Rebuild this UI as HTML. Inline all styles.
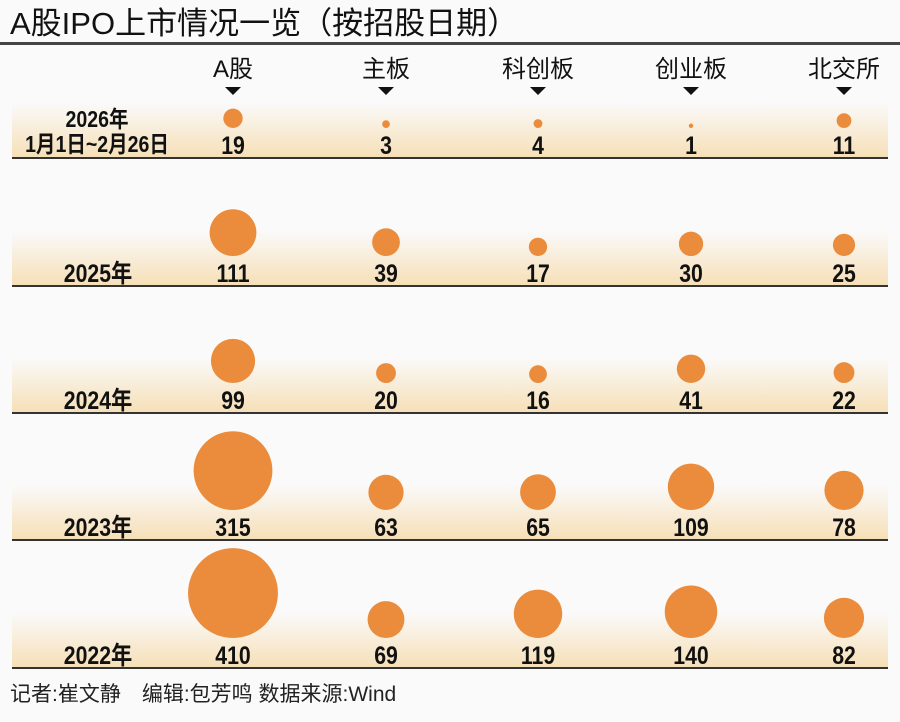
<!DOCTYPE html><html><head><meta charset="utf-8"><style>
body{margin:0;background:#fafafa;width:900px;height:717px;overflow:hidden;font-family:"Liberation Sans","Noto Sans CJK SC",sans-serif}
</style></head><body>
<svg width="900" height="717" xmlns="http://www.w3.org/2000/svg" font-family="Liberation Sans, Noto Sans CJK SC, sans-serif">
<defs><linearGradient id="g" x1="0" y1="0" x2="0" y2="1"><stop offset="0" stop-color="#fafafa"/><stop offset="1" stop-color="#f6dfb6"/></linearGradient></defs>
<text x="10" y="34" font-size="31" fill="#111">A股IPO上市情况一览（按招股日期）</text>
<rect x="0" y="42" width="900" height="3" fill="#444"/>
<g font-size="24" text-anchor="middle" fill="#111">
<text x="233" y="77">A股</text><text x="386" y="77">主板</text><text x="538" y="77">科创板</text><text x="691" y="77">创业板</text><text x="844" y="77">北交所</text></g>
<g fill="#111"><path d="M225 87h16l-8 8z"/><path d="M378 87h16l-8 8z"/><path d="M530 87h16l-8 8z"/><path d="M683 87h16l-8 8z"/><path d="M836 87h16l-8 8z"/></g>
<g id="rows"></g>
<text x="10" y="701" font-size="21" fill="#222">记者:崔文静　编辑:包芳鸣  数据来源:Wind</text>
</svg>
<script>
var rows=[[158,["2026年","1月1日~2月26日"],[19,3,4,1,11]],[286,["2025年"],[111,39,17,30,25]],[413,["2024年"],[99,20,16,41,22]],[540,["2023年"],[315,63,65,109,78]],[668,["2022年"],[410,69,119,140,82]]];
var xs=[233,386,538,691,844],h='';
function t(x,y,s,fs){return '<text transform="translate('+x+','+y+') scale(0.85,1)" font-size="'+fs+'" font-weight="bold" text-anchor="middle" fill="#111">'+s+'</text>';}
rows.forEach(function(r){var L=r[0];
h+='<rect x="12" y="'+(L-55)+'" width="876" height="55" fill="url(#g)"/>';
h+='<rect x="12" y="'+(L-1)+'" width="876" height="2" fill="#333"/>';
if(r[1].length==2){h+=t(97,L-31,r[1][0],23)+t(97,L-6,r[1][1],23);}
else h+=t(98,L-4,r[1][0],25);
r[2].forEach(function(v,i){var rad=2.22*Math.sqrt(v);
h+='<circle cx="'+xs[i]+'" cy="'+(L-30-rad)+'" r="'+rad+'" fill="#eb8c3c"/>';
h+=t(xs[i],L-4,v,25);});});
document.getElementById('rows').innerHTML=h;
</script>
</body></html>
